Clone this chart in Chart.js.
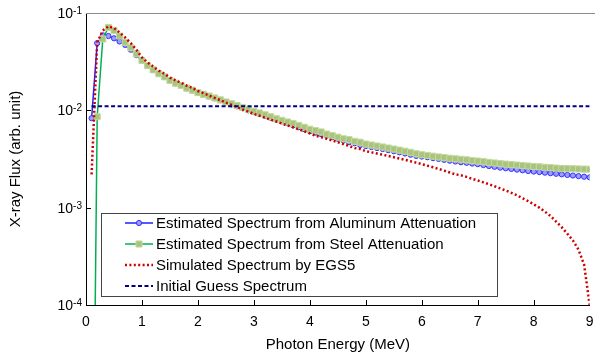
<!DOCTYPE html>
<html>
<head>
<meta charset="utf-8">
<script src="https://cdn.jsdelivr.net/npm/chart.js@4.4.1/dist/chart.umd.min.js"></script>
<style>
  html, body { margin: 0; padding: 0; background: #fff; }
  #wrap { width: 595px; height: 358px; position: relative; }
</style>
</head>
<body>
<div id="wrap"><canvas id="chart"></canvas></div>
<script>
// ============================================================
// X-ray spectrum — estimated vs simulated (log scale)
// ============================================================

const energy = [
  0.1, 0.2, 0.3, 0.4, 0.5, 0.6, 0.7, 0.8, 0.9, 1.0,
  1.1, 1.2, 1.3, 1.4, 1.5, 1.6, 1.7, 1.8, 1.9, 2.0,
  2.1, 2.2, 2.3, 2.4, 2.5, 2.6, 2.7, 2.8, 2.9, 3.0,
  3.1, 3.2, 3.3, 3.4, 3.5, 3.6, 3.7, 3.8, 3.9, 4.0,
  4.1, 4.2, 4.3, 4.4, 4.5, 4.6, 4.7, 4.8, 4.9, 5.0,
  5.1, 5.2, 5.3, 5.4, 5.5, 5.6, 5.7, 5.8, 5.9, 6.0,
  6.1, 6.2, 6.3, 6.4, 6.5, 6.6, 6.7, 6.8, 6.9, 7.0,
  7.1, 7.2, 7.3, 7.4, 7.5, 7.6, 7.7, 7.8, 7.9, 8.0,
  8.1, 8.2, 8.3, 8.4, 8.5, 8.6, 8.7, 8.8, 8.9, 9.0
];

const aluminumFlux = [
  0.0083, 0.049, 0.059, 0.058, 0.055, 0.051, 0.047, 0.042, 0.037, 0.0322,
  0.0287, 0.0260, 0.0237, 0.0220, 0.0202, 0.0189, 0.0179, 0.0168, 0.0160, 0.0151,
  0.0145, 0.0139, 0.0133, 0.0127, 0.0121, 0.0115, 0.0110, 0.0105, 0.0100, 0.0096,
  0.0092, 0.0088, 0.0084, 0.0080, 0.0077, 0.0074, 0.0070, 0.0067, 0.0064, 0.0061,
  0.0059, 0.0057, 0.0055, 0.0053, 0.0051, 0.0049, 0.0047, 0.0046, 0.0044, 0.0043,
  0.0042, 0.0041, 0.0040, 0.0039, 0.0038, 0.0037, 0.0036, 0.0035, 0.0034, 0.00335,
  0.0033, 0.00323, 0.00317, 0.0031, 0.00304, 0.00298, 0.00293, 0.00289, 0.00284, 0.0028,
  0.00274, 0.00268, 0.00263, 0.00258, 0.00254, 0.0025, 0.00246, 0.00242, 0.00238, 0.00235,
  0.00232, 0.00229, 0.00226, 0.00223, 0.0022, 0.00217, 0.00214, 0.00211, 0.00208, 0.00205
];

const steelFlux = [
  3e-8, 0.0086, 0.054, 0.071, 0.066, 0.058, 0.050, 0.044, 0.038, 0.0325,
  0.0288, 0.0261, 0.0238, 0.0221, 0.0203, 0.0190, 0.0180, 0.0169, 0.0161, 0.0152,
  0.0146, 0.0140, 0.0134, 0.0128, 0.0122, 0.0117, 0.0112, 0.0107, 0.0102, 0.0098,
  0.0094, 0.0090, 0.0086, 0.0082, 0.0079, 0.0076, 0.0073, 0.0070, 0.0067, 0.0064,
  0.0062, 0.0060, 0.0057, 0.0055, 0.0053, 0.0051, 0.0050, 0.0048, 0.0047, 0.0045,
  0.0044, 0.0043, 0.0042, 0.0041, 0.0040, 0.0039, 0.0038, 0.0037, 0.00358, 0.0035,
  0.00344, 0.00338, 0.00332, 0.00327, 0.00322, 0.00318, 0.00314, 0.0031, 0.00305, 0.00301,
  0.00297, 0.00292, 0.00288, 0.00284, 0.0028, 0.00277, 0.00274, 0.00271, 0.00268, 0.00265,
  0.00263, 0.0026, 0.00258, 0.00255, 0.00253, 0.00252, 0.00251, 0.0025, 0.00249, 0.00248
];

const egs5Flux = [
  0.0022, 0.050, 0.066, 0.073, 0.070, 0.063, 0.056, 0.049, 0.042, 0.035,
  0.031, 0.0282, 0.0256, 0.0238, 0.0217, 0.0203, 0.0192, 0.0179, 0.0170, 0.0158,
  0.0150, 0.0142, 0.0134, 0.0127, 0.0120, 0.0114, 0.0108, 0.0102, 0.0097, 0.0092,
  0.0088, 0.0084, 0.0080, 0.0077, 0.0073, 0.0070, 0.0067, 0.0064, 0.0061, 0.0058,
  0.0055, 0.0053, 0.0051, 0.0049, 0.0047, 0.0045, 0.0043, 0.0041, 0.0040, 0.0038,
  0.0037, 0.0036, 0.0035, 0.0034, 0.0033, 0.0032, 0.0031, 0.0030, 0.0029, 0.0028,
  0.0027, 0.0026, 0.0025, 0.0024, 0.0023, 0.0022, 0.00215, 0.00207, 0.00198, 0.0019,
  0.00182, 0.00174, 0.00166, 0.00158, 0.0015, 0.00142, 0.00134, 0.00125, 0.00117, 0.00108,
  0.001, 0.00091, 0.00082, 0.00072, 0.00063, 0.00054, 0.00046, 0.00037, 0.00026, 0.0001
];

const guessEnergy = [0.1, 9.0];
const guessFlux = [0.011, 0.011];

const xTickValues = [0, 1, 2, 3, 4, 5, 6, 7, 8, 9];
const yTickExps = [-1, -2, -3, -4];

const seriesLabels = [
  'Estimated Spectrum from Aluminum Attenuation',
  'Estimated Spectrum from Steel Attenuation',
  'Simulated Spectrum by EGS5',
  'Initial Guess Spectrum'
];

const FONT = '"Liberation Sans", Arial, sans-serif';

const toPoints = (xs, ys) => xs.map((v, i) => ({ x: v, y: ys[i] }));

// --- axes, labels and legend drawn on top of the plot ---
const decor = {
  id: 'decor',
  afterDraw(chart) {
    const { ctx, chartArea: a, scales: { x, y } } = chart;
    ctx.save();

    // top frame
    ctx.strokeStyle = '#8c8c8c';
    ctx.lineWidth = 1;
    ctx.beginPath();
    ctx.moveTo(a.left, a.top + 0.5);
    ctx.lineTo(chart.width, a.top + 0.5);
    ctx.stroke();

    // inward ticks
    ctx.strokeStyle = '#000';
    ctx.beginPath();
    xTickValues.slice(1, -1).forEach(v => {
      const px = Math.round(x.getPixelForValue(v)) + 0.5;
      ctx.moveTo(px, a.bottom);
      ctx.lineTo(px, a.bottom - 5);
    });
    yTickExps.slice(1, -1).forEach(e => {
      const py = Math.round(y.getPixelForValue(Math.pow(10, e))) + 0.5;
      ctx.moveTo(a.left, py);
      ctx.lineTo(a.left + 5, py);
    });
    ctx.stroke();

    ctx.fillStyle = '#000';

    // x tick labels
    ctx.font = '14px ' + FONT;
    ctx.textAlign = 'center';
    ctx.textBaseline = 'middle';
    xTickValues.forEach(v => ctx.fillText(String(v), x.getPixelForValue(v), a.bottom + 17));

    // y tick labels 10^n
    yTickExps.forEach(e => {
      const py = y.getPixelForValue(Math.pow(10, e));
      ctx.font = '14px ' + FONT;
      const wBase = ctx.measureText('10').width;
      ctx.font = '10px ' + FONT;
      const expTxt = String(e);
      const wExp = ctx.measureText(expTxt).width;
      const x0 = a.left - 4 - wBase - wExp;
      ctx.textAlign = 'left';
      ctx.textBaseline = 'alphabetic';
      ctx.font = '14px ' + FONT;
      ctx.fillText('10', x0, py + 5);
      ctx.font = '10px ' + FONT;
      ctx.fillText(expTxt, x0 + wBase, py + 1);
    });

    // axis titles
    ctx.font = '15px ' + FONT;
    ctx.textAlign = 'center';
    ctx.textBaseline = 'middle';
    ctx.fillText('Photon Energy (MeV)', (a.left + a.right) / 2, 345);
    ctx.save();
    ctx.translate(16, (a.top + a.bottom) / 2);
    ctx.rotate(-Math.PI / 2);
    ctx.fillText('X-ray Flux (arb. unit)', 0, 0);
    ctx.restore();

    // legend box
    const box = { l: 101.5, t: 213.5, r: 497.5, b: 296.5 };
    ctx.fillStyle = '#fff';
    ctx.fillRect(box.l, box.t, box.r - box.l, box.b - box.t);
    ctx.strokeStyle = '#444';
    ctx.lineWidth = 1;
    ctx.strokeRect(box.l, box.t, box.r - box.l, box.b - box.t);

    chart.data.datasets.forEach((ds, i) => {
      const ry = 223 + i * 21;
      ctx.save();
      ctx.strokeStyle = ds.borderColor;
      ctx.lineWidth = ds.borderWidth;
      ctx.setLineDash(ds.borderDash || []);
      ctx.beginPath();
      ctx.moveTo(125, ry);
      ctx.lineTo(153, ry);
      ctx.stroke();
      ctx.setLineDash([]);
      if (ds.pointRadius > 0) {
        ctx.fillStyle = ds.pointBackgroundColor;
        ctx.strokeStyle = ds.pointBorderColor;
        ctx.lineWidth = ds.pointBorderWidth;
        ctx.beginPath();
        if (ds.pointStyle === 'rect') {
          const s = ds.pointRadius * Math.SQRT1_2;
          ctx.rect(139 - s, ry - s, 2 * s, 2 * s);
        } else {
          ctx.arc(139, ry, ds.pointRadius, 0, Math.PI * 2);
        }
        ctx.fill();
        ctx.stroke();
      }
      ctx.restore();
      ctx.fillStyle = '#000';
      ctx.font = '15px ' + FONT;
      ctx.textAlign = 'left';
      ctx.textBaseline = 'middle';
      ctx.fillText(seriesLabels[i], 156, ry + 1);
    });

    ctx.restore();
  }
};

new Chart(document.getElementById('chart'), {
  type: 'line',
  data: {
    datasets: [
      {
        label: seriesLabels[0], data: toPoints(energy, aluminumFlux), order: 4,
        borderColor: '#1f1fff', borderWidth: 1.5,
        pointStyle: 'circle', pointRadius: 2.6, pointBorderWidth: 1,
        pointBackgroundColor: '#9d9dff', pointBorderColor: '#3333ff'
      },
      {
        label: seriesLabels[1], data: toPoints(energy, steelFlux), order: 3,
        borderColor: '#00b050', borderWidth: 1.5,
        pointStyle: 'rect', pointRadius: 4.3, pointBorderWidth: 1,
        pointBackgroundColor: '#a9c47c', pointBorderColor: '#c6d9a0'
      },
      {
        label: seriesLabels[2], data: toPoints(energy, egs5Flux), order: 2,
        borderColor: '#cc0000', borderWidth: 2.5, borderDash: [2, 2.4],
        pointRadius: 0
      },
      {
        label: seriesLabels[3], data: toPoints(guessEnergy, guessFlux), order: 1,
        borderColor: '#000080', borderWidth: 2, borderDash: [4, 2.5],
        pointRadius: 0
      }
    ]
  },
  options: {
    responsive: true, maintainAspectRatio: false, animation: false,
    layout: { padding: { left: 0, right: 5, top: 13, bottom: 0 } },
    plugins: { legend: { display: false }, tooltip: { enabled: false } },
    elements: { line: { tension: 0 } },
    scales: {
      x: {
        type: 'linear', min: 0, max: 9,
        grid: { display: false, drawTicks: false },
        ticks: { display: false },
        border: { display: true, color: '#000', width: 1 },
        afterFit: s => { s.height = 53; }
      },
      y: {
        type: 'logarithmic', min: 1e-4, max: 1e-1,
        grid: { display: false, drawTicks: false },
        ticks: { display: false },
        border: { display: true, color: '#000', width: 1 },
        afterFit: s => { s.width = 86; }
      }
    }
  },
  plugins: [decor]
});
</script>
</body>
</html>
